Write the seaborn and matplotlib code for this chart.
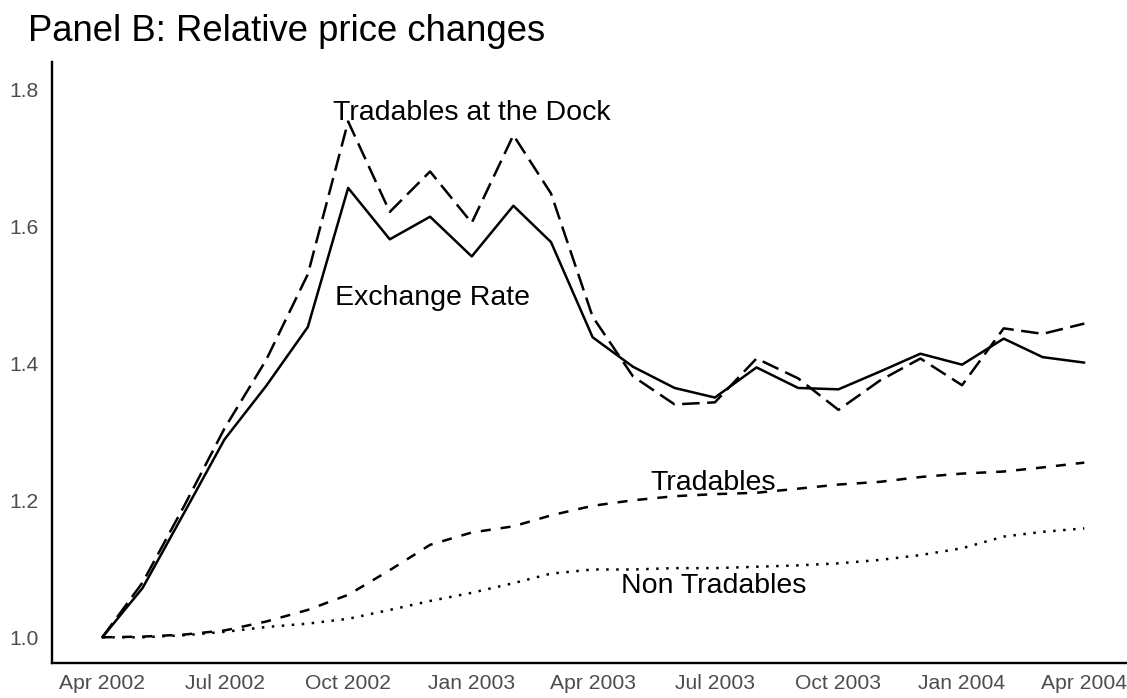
import matplotlib
matplotlib.use("Agg")
import matplotlib.pyplot as plt
import matplotlib.dates as mdates
import pandas as pd
import seaborn as sns

# Monthly index values, April 2002 = 1
months = pd.date_range("2002-04-01", "2004-04-01", freq="MS")
exchange_rate = [1.000, 1.072, 1.182, 1.289, 1.367, 1.453, 1.656, 1.581, 1.614,
                 1.556, 1.630, 1.577, 1.438, 1.395, 1.364, 1.350, 1.394, 1.364,
                 1.362, 1.388, 1.414, 1.398, 1.436, 1.409, 1.401]
tradables_dock = [1.000, 1.080, 1.192, 1.305, 1.405, 1.530, 1.753, 1.621, 1.680,
                  1.605, 1.733, 1.648, 1.468, 1.381, 1.340, 1.343, 1.407, 1.378,
                  1.332, 1.375, 1.407, 1.368, 1.451, 1.443, 1.458]
tradables = [1.000, 1.001, 1.004, 1.010, 1.023, 1.040, 1.062, 1.098, 1.135,
             1.153, 1.162, 1.178, 1.192, 1.200, 1.206, 1.209, 1.211, 1.217,
             1.223, 1.227, 1.234, 1.239, 1.242, 1.248, 1.255]
non_tradables = [1.000, 1.000, 1.003, 1.008, 1.015, 1.020, 1.027, 1.040, 1.053,
                 1.065, 1.079, 1.093, 1.099, 1.099, 1.101, 1.101, 1.103, 1.105,
                 1.108, 1.113, 1.120, 1.130, 1.147, 1.154, 1.159]

series_names = ["Exchange Rate", "Tradables at the Dock", "Tradables", "Non Tradables"]
series_values = [exchange_rate, tradables_dock, tradables, non_tradables]

# Line labels: (text, date of centre, baseline value)
label_text = ["Tradables at the Dock", "Exchange Rate", "Tradables", "Non Tradables"]
label_date = ["2003-01-01", "2002-12-03", "2003-06-30", "2003-06-30"]
label_value = [1.755, 1.485, 1.215, 1.065]

x_ticks = ["2002-04-01", "2002-07-01", "2002-10-01", "2003-01-01", "2003-04-01",
           "2003-07-01", "2003-10-01", "2004-01-01", "2004-04-01"]
y_ticks = [1.0, 1.2, 1.4, 1.6, 1.8]

df = pd.concat(
    [pd.DataFrame({"date": months, "value": v, "series": n})
     for n, v in zip(series_names, series_values)],
    ignore_index=True,
)

sns.set_theme(style="white")
plt.rcParams["font.family"] = ["Liberation Sans", "DejaVu Sans"]

W, H = 1127, 698
fig = plt.figure(figsize=(W / 100, H / 100), dpi=100)
left_px, right_px, top_px, bottom_px = 52.3, 1127, 62, 663.3
ax = fig.add_axes([left_px / W, (H - bottom_px) / H,
                   (right_px - left_px) / W, (bottom_px - top_px) / H])

dash_map = {
    "Exchange Rate": "",
    "Tradables at the Dock": (7, 3),
    "Tradables": (4, 4),
    "Non Tradables": (1, 3),
}
sns.lineplot(data=df, x="date", y="value", style="series", dashes=dash_map,
             color="black", linewidth=1.8, legend=False, ax=ax)

for txt, d, v in zip(label_text, label_date, label_value):
    ax.text(pd.Timestamp(d), v, txt, ha="center", va="baseline",
            fontsize=20.5, color="black")

# Axis limits: 5% padding around the data range
start = pd.Timestamp("2002-04-01")
px_per_day = (1084.3 - 102.3) / 731
ax.set_xlim(start - pd.Timedelta(days=(102.3 - left_px) / px_per_day),
            start + pd.Timedelta(days=(right_px - 102.3) / px_per_day))
px_per_unit = (637.3 - 89.3) / 0.8
ax.set_ylim(1.0 - (bottom_px - 637.3) / px_per_unit,
            1.0 + (637.3 - top_px) / px_per_unit)

ax.set_xticks(pd.to_datetime(x_ticks))
ax.xaxis.set_major_formatter(mdates.DateFormatter("%b %Y"))
ax.set_yticks(y_ticks)
ax.set_yticklabels([f"{t:.1f}" for t in y_ticks])
ax.set_xlabel("")
ax.set_ylabel("")

for side in ("top", "right"):
    ax.spines[side].set_visible(False)
for side in ("left", "bottom"):
    ax.spines[side].set_color("black")
    ax.spines[side].set_linewidth(1.7)

ax.tick_params(axis="both", which="major", length=4.5, width=1.1,
               color="#333333", labelcolor="#4D4D4D", labelsize=15.2)
ax.tick_params(axis="x", pad=3.5)
ax.tick_params(axis="y", pad=5)

fig.text(28 / W, (H - 41) / H, "Panel B: Relative price changes",
         fontsize=26.3, ha="left", va="baseline", color="black")

fig.savefig("out.png", dpi=100)
